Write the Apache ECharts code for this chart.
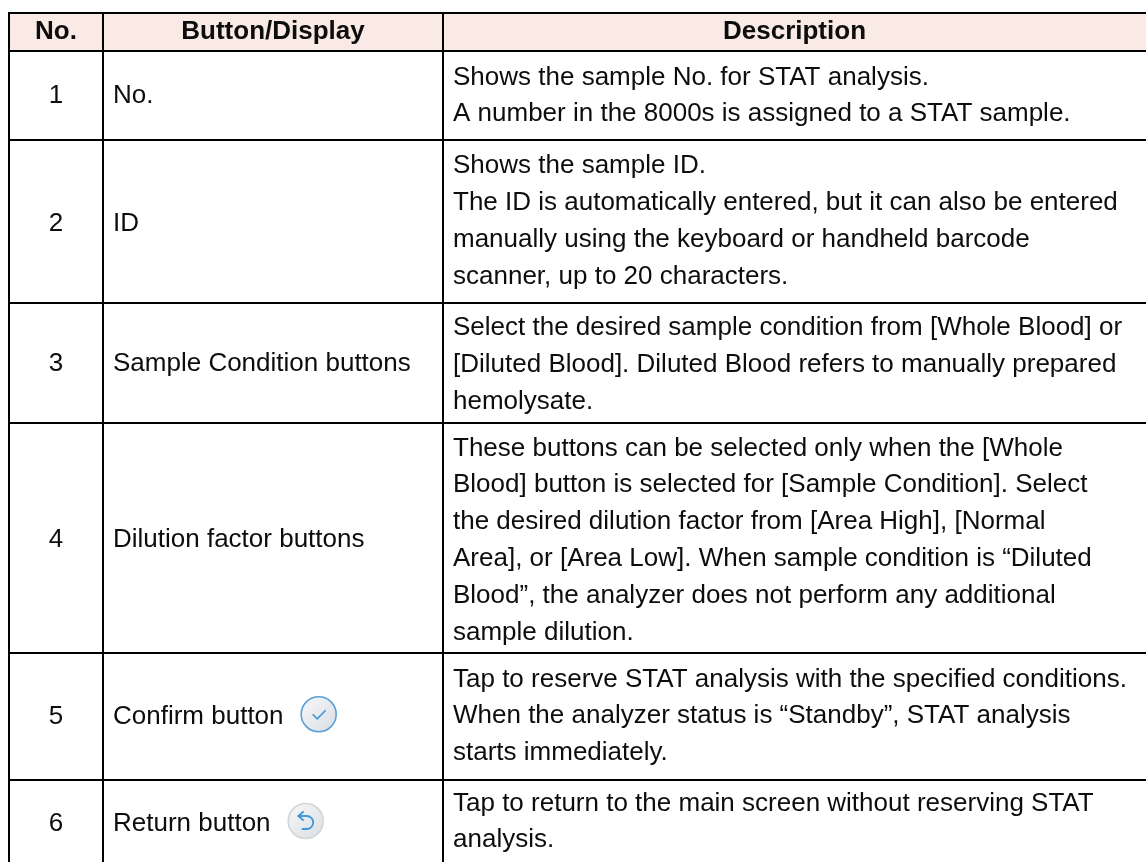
<!DOCTYPE html>
<html><head><meta charset="utf-8">
<style>html,body{margin:0;padding:0;background:#fff}#c{width:1146px;height:862px}</style>
<script src="https://cdn.jsdelivr.net/npm/echarts@6/dist/echarts.min.js"></script>
</head><body><div id="c"></div>
<script>
const headers = ["No.", "Button/Display", "Description"];
const rowNumbers = ["1", "2", "3", "4", "5", "6"];
const rowNames = ["No.", "ID", "Sample Condition buttons", "Dilution factor buttons", "Confirm button", "Return button"];
const rowDescriptions = [
  ["Shows the sample No. for STAT analysis.", "A number in the 8000s is assigned to a STAT sample."],
  ["Shows the sample ID.", "The ID is automatically entered, but it can also be entered", "manually using the keyboard or handheld barcode", "scanner, up to 20 characters."],
  ["Select the desired sample condition from [Whole Blood] or", "[Diluted Blood]. Diluted Blood refers to manually prepared", "hemolysate."],
  ["These buttons can be selected only when the [Whole", "Blood] button is selected for [Sample Condition]. Select", "the desired dilution factor from [Area High], [Normal", "Area], or [Area Low]. When sample condition is “Diluted", "Blood”, the analyzer does not perform any additional", "sample dilution."],
  ["Tap to reserve STAT analysis with the specified conditions.", "When the analyzer status is “Standby”, STAT analysis", "starts immediately."],
  ["Tap to return to the main screen without reserving STAT", "analysis."]
];

// layout (pixels on the hidden page-sized axes)
const W = 1146, H = 862;
const colEdges = [9, 103, 443, 1146];
const rowEdges = [13, 51, 140, 303, 423, 653, 780, 862];
const headerMid = 32;
const numMid = [96, 223.5, 364, 539.5, 716.5, 824];
const firstLine = [77.5, 166, 328, 448.5, 679.5, 803.5];
const lineGap = 36.8;
const FONT = '"Liberation Sans", Arial, sans-serif';
const SIZE = 26;
const INK = '#0d0d0d';
const RULE = '#000000';
const iconSpec = {4: {cx: 318.7, cy: 714.3, kind: 'check'}, 5: {cx: 305.7, cy: 821, kind: 'back'}};

function textEl(x, y, s, align, bold) {
  return {type: 'text', style: {x, y, text: s, fill: INK, align, verticalAlign: 'middle',
    font: (bold ? 'bold ' : '') + SIZE + 'px ' + FONT}};
}
function renderItem(params, api) {
  const p = (x, y) => api.coord([x, y]);
  const kids = [];
  const i = api.value(0);
  const txt = (x, y, s, align, bold) => { const q = p(x, y); kids.push(textEl(q[0], q[1], s, align, bold)); };
  const line = (x1, y1, x2, y2, w) => { const a = p(x1, y1), b = p(x2, y2);
    kids.push({type: 'line', shape: {x1: a[0], y1: a[1], x2: b[0], y2: b[1]}, style: {stroke: RULE, lineWidth: w}}); };
  if (i === 0) {
    const a = p(colEdges[0], rowEdges[0]), b = p(W, rowEdges[1]);
    kids.push({type: 'rect', shape: {x: a[0], y: a[1], width: b[0] - a[0], height: b[1] - a[1]}, style: {fill: '#f9eae6'}});
    txt((colEdges[0] + colEdges[1]) / 2, headerMid, headers[0], 'center', true);
    txt((colEdges[1] + colEdges[2]) / 2, headerMid, headers[1], 'center', true);
    txt((colEdges[2] + colEdges[3]) / 2, headerMid, headers[2], 'center', true);
    rowEdges.slice(0, -1).forEach(y => line(colEdges[0] - 1, y, W, y, 2));
    colEdges.slice(0, 3).forEach(x => line(x, rowEdges[0], x, H, 2));
    return {type: 'group', children: kids};
  }
  const r = i - 1;
  txt((colEdges[0] + colEdges[1]) / 2, numMid[r], rowNumbers[r], 'center', false);
  txt(colEdges[1] + 10, numMid[r], rowNames[r], 'left', false);
  rowDescriptions[r].forEach((s, k) => txt(colEdges[2] + 10, firstLine[r] + k * lineGap, s, 'left', false));
  const ic = iconSpec[r];
  if (ic) {
    const c = p(ic.cx, ic.cy);
    const g = {type: 'linear', x: 0, y: 0, x2: 1, y2: 1, colorStops: [{offset: 0, color: '#f7f8fa'}, {offset: 1, color: '#d9dde2'}]};
    if (ic.kind === 'check') {
      kids.push({type: 'circle', shape: {cx: c[0], cy: c[1], r: 17.5}, style: {fill: g, stroke: '#5b9fd6', lineWidth: 1.6}});
      kids.push({type: 'polyline', shape: {points: [[c[0] - 6, c[1]], [c[0] - 1.5, c[1] + 4.5], [c[0] + 7, c[1] - 4]]}, style: {stroke: '#3f97dc', lineWidth: 1.6, fill: null}});
    } else {
      kids.push({type: 'circle', shape: {cx: c[0], cy: c[1], r: 17.5}, style: {fill: g, stroke: '#d4d4d4', lineWidth: 1.6}});
      kids.push({type: 'path', shape: {pathData: `M${c[0]-2} ${c[1]-9.5} L${c[0]-7.5} ${c[1]-5} L${c[0]-2} ${c[1]-0.5} M${c[0]-7.5} ${c[1]-5} L${c[0]+1} ${c[1]-5} A6.5 6.5 0 0 1 ${c[0]+1} ${c[1]+8} L${c[0]-4} ${c[1]+8}`}, style: {stroke: '#3f97dc', lineWidth: 1.8, fill: null}});
    }
  }
  return {type: 'group', children: kids};
}
const chart = echarts.init(document.getElementById('c'), null, {renderer: 'canvas'});
chart.setOption({
  animation: false,
  backgroundColor: '#ffffff',
  grid: {left: 0, right: 0, top: 0, bottom: 0},
  xAxis: {type: 'value', min: 0, max: W, show: false},
  yAxis: {type: 'value', min: 0, max: H, inverse: true, show: false},
  series: [{type: 'custom', coordinateSystem: 'cartesian2d', clip: false, silent: true,
    encode: {x: 0, y: 0}, renderItem,
    data: [0, 1, 2, 3, 4, 5, 6].map(v => [v])}]
});
</script></body></html>
